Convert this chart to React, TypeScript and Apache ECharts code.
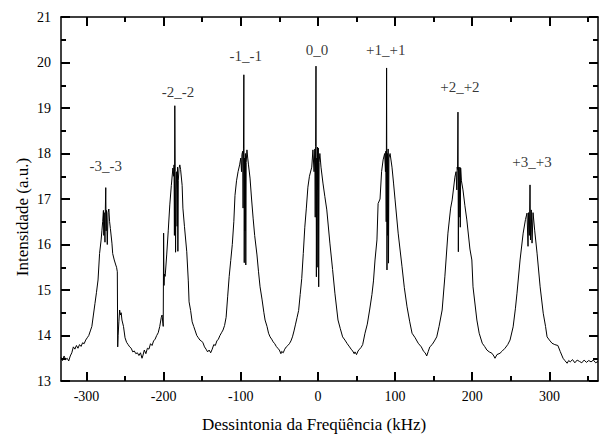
import React, { useEffect, useRef } from "react";
import * as echarts from "echarts";

// Spectrum: [detuning kHz, intensity a.u.]
const segmentLeftEdge: [number, number][] = [
  [-333, 13.52], [-331, 13.45], [-329, 13.55], [-327, 13.47], [-325, 13.5], [-323, 13.44],
  [-321, 13.55], [-319, 13.62], [-317, 13.75], [-315, 13.7], [-313, 13.78], [-311, 13.72],
  [-309, 13.8], [-307, 13.76], [-305, 13.84], [-303, 13.82], [-301, 13.9], [-299, 13.95],
  [-297, 14.0], [-295, 14.1], [-293, 14.2],
];
const segmentPeakM3: [number, number][] = [
  [-291, 14.45], [-289, 14.7], [-287, 14.95], [-285, 15.22], [-283, 15.8], [-281, 16.1],
  [-280, 16.3], [-279, 16.5], [-278, 16.75], [-277.5, 16.2], [-277, 16.7], [-276, 16.05],
  [-275.5, 16.8], [-275, 17.25], [-274.5, 16.3], [-274, 16.75], [-273, 16.0], [-272, 16.7],
  [-271, 16.78], [-270, 16.5], [-269, 16.35], [-267, 16.03], [-266, 15.8], [-264, 15.66],
  [-262, 15.55], [-261, 15.5], [-260, 15.4], [-259.5, 13.75], [-259, 14.0], [-258, 14.3],
  [-257, 14.56], [-256, 14.45], [-255, 14.5], [-254, 14.34], [-252, 14.2], [-250, 13.95],
  [-248, 13.85], [-246, 13.8], [-244, 13.75], [-242, 13.72], [-240, 13.64], [-238, 13.66],
  [-236, 13.6], [-234, 13.62], [-232, 13.56], [-230, 13.62], [-228, 13.5], [-227, 13.55],
  [-225, 13.68], [-223, 13.6], [-221, 13.72], [-219, 13.7], [-217, 13.82], [-215, 13.78],
  [-213, 13.88], [-211, 13.92], [-209, 14.0], [-207, 14.06], [-205, 14.2], [-203, 14.4],
  [-202, 14.45], [-201, 14.27], [-200.5, 14.2],
];
const segmentPeakM2: [number, number][] = [
  [-200, 16.25], [-199.5, 15.1], [-199, 15.35], [-198, 15.3], [-196, 15.77], [-194, 16.3],
  [-192, 16.87], [-190, 17.3], [-188, 17.68], [-187, 17.5], [-186.5, 17.75], [-186, 16.2],
  [-185.5, 19.05], [-185, 17.6], [-184.5, 15.83], [-184, 17.2], [-183, 17.6], [-182.5, 16.4],
  [-182, 17.7], [-181.5, 15.85], [-181, 17.4], [-180, 17.68], [-179, 17.75], [-178, 17.65],
  [-176, 17.3], [-175, 16.8], [-173, 16.4], [-170, 15.84], [-168, 15.2], [-167, 14.74],
  [-165, 14.55], [-163, 14.3], [-161, 14.2], [-159, 14.1], [-157, 14.0], [-155, 13.95],
  [-153, 13.9], [-151, 13.88], [-149, 13.84], [-147, 13.75], [-145, 13.7], [-143, 13.64],
  [-141, 13.68], [-139, 13.62], [-137, 13.7], [-135, 13.8], [-133, 13.78], [-131, 13.88],
  [-129, 13.92], [-127, 14.0], [-125, 14.06], [-123, 14.12], [-121, 14.22],
];
const segmentPeakM1: [number, number][] = [
  [-119, 14.4], [-117, 14.85], [-115, 15.3], [-113, 15.65], [-111, 16.0], [-109, 16.5],
  [-107.5, 17.08], [-105.5, 17.4], [-103.5, 17.6], [-101.5, 17.75], [-100, 17.9], [-99, 17.6],
  [-98.5, 17.98], [-97.5, 18.05], [-97, 16.8], [-96.5, 18.1], [-96, 19.73], [-95.5, 15.6],
  [-95, 17.9], [-94.5, 16.3], [-94, 18.0], [-93.5, 15.55], [-93, 17.8], [-92, 18.08],
  [-91, 17.9], [-90, 17.75], [-88, 17.46], [-86, 17.0], [-84, 16.58], [-82, 16.2],
  [-79, 15.77], [-77, 15.4], [-75, 15.07], [-72.5, 14.8], [-70, 14.5], [-68.5, 14.34],
  [-66, 14.2], [-64, 14.05], [-62, 13.97], [-60, 13.92], [-58, 13.86], [-56, 13.82],
  [-54, 13.76], [-52, 13.72], [-50, 13.68], [-48, 13.6], [-47, 13.65], [-45, 13.62],
  [-43, 13.7], [-41, 13.75], [-39, 13.78], [-37, 13.82], [-35, 13.88], [-33, 13.97],
];
const segmentPeak0: [number, number][] = [
  [-31, 14.1], [-29, 14.25], [-27, 14.4], [-25, 14.55], [-23, 14.9], [-21, 15.25],
  [-19, 15.8], [-17, 16.38], [-15, 16.8], [-13, 17.26], [-11, 17.5], [-8, 17.7],
  [-6.5, 18.08], [-5, 17.6], [-4, 18.1], [-3.5, 16.6], [-3, 18.15], [-2.5, 19.92],
  [-2, 15.29], [-1.5, 17.9], [-1, 15.5], [-0.5, 18.14], [0, 17.2], [0.5, 18.12],
  [1, 15.07], [1.5, 17.8], [2.5, 18.0], [4, 17.7], [6.5, 17.35], [9, 17.05],
  [11.5, 16.76], [15.5, 16.03], [19, 15.45], [22, 14.93], [26, 14.34], [29, 14.15],
  [32, 13.97], [35, 13.9], [38, 13.82], [41, 13.75], [43, 13.7], [45, 13.66],
  [47, 13.6], [48, 13.64], [50, 13.58], [52, 13.66], [54, 13.7], [56, 13.74], [58, 13.8],
];
const segmentPeakP1: [number, number][] = [
  [61, 14.05], [64, 14.25], [67, 14.56], [70, 14.9], [72, 15.2], [74, 15.66],
  [76.5, 16.1], [78, 16.9], [80.5, 17.0], [82.5, 17.6], [84.5, 17.86], [86.5, 18.0],
  [87.5, 17.6], [88, 18.05], [88.5, 16.5], [89, 19.88], [89.5, 15.44], [90, 18.0],
  [90.5, 16.2], [91, 18.1], [91.5, 15.59], [92, 17.9], [93.5, 18.0], [96, 17.7],
  [98, 17.35], [100, 16.98], [104, 16.25], [109, 15.51], [112, 15.05], [115.5, 14.63],
  [119, 14.3], [122, 14.05], [126, 13.95], [130, 13.83], [134, 13.75], [137, 13.65],
  [139, 13.62], [141, 13.55], [143, 13.65], [145, 13.75], [148, 13.8], [151, 13.88],
  [154, 13.97],
];
const segmentPeakP2: [number, number][] = [
  [157, 14.2], [161, 14.56], [164.5, 15.29], [168.5, 16.25], [172, 16.8], [174, 16.98],
  [177.5, 17.48], [179, 17.6], [180, 17.2], [180.5, 17.7], [181, 17.65], [181.5, 18.91],
  [182, 15.84], [182.5, 17.7], [183, 16.6], [184, 17.7], [184.5, 16.38], [185, 17.68],
  [186, 17.4], [188, 17.2], [190.5, 16.85], [193, 16.54], [197, 15.9], [199.5, 15.66],
  [201, 15.07], [206, 14.34], [209, 14.05], [213, 13.83], [216, 13.76], [219, 13.68],
  [222, 13.64], [225.5, 13.61], [228, 13.55], [229.5, 13.5], [232, 13.58], [236, 13.61],
  [239, 13.66], [242.5, 13.72], [246, 13.8], [249, 13.9],
];
const segmentPeakP3: [number, number][] = [
  [253, 14.19], [256, 14.6], [258, 14.93], [262, 15.66], [266, 16.25], [269, 16.55],
  [271, 16.69], [272.3, 15.96], [273, 16.7], [274, 16.2], [274.9, 17.31], [275.5, 16.1],
  [276.5, 16.76], [277.5, 16.03], [278.8, 16.7], [281, 16.3], [284, 15.81], [288, 15.07],
  [292, 14.49], [295, 14.2], [297, 13.97], [300, 13.9], [303.4, 13.83], [307, 13.8],
  [311, 13.78], [314, 13.65], [317.7, 13.5], [320, 13.45], [323, 13.39], [325, 13.45],
  [327, 13.42], [330, 13.47], [333, 13.4], [336, 13.46], [339, 13.43], [342, 13.4],
  [345, 13.46], [348, 13.41], [351, 13.45], [354, 13.42], [357, 13.46], [360, 13.4], [363, 13.43],
];

const peakLabels = ["-3_-3", "-2_-2", "-1_-1", "0_0", "+1_+1", "+2_+2", "+3_+3"];
const peakLabelX = [-275, -181.5, -93.4, -1.3, 88, 184, 277.5];
const peakLabelY = [17.73, 19.35, 20.14, 20.27, 20.27, 19.46, 17.81];

const xMajorTicks = [-300, -200, -100, 0, 100, 200, 300];
const xMinorTicks = [-250, -150, -50, 50, 150, 250, 350];
const X_MIN = -333;
const X_MAX = 363;
const Y_MIN = 13;
const Y_MAX = 21;

const FONT = "'Liberation Serif', 'Times New Roman', serif";
const TICK = "#000";

export default function App() {
  const ref = useRef<HTMLDivElement>(null);

  useEffect(() => {
    if (!ref.current) return;
    const chart = echarts.init(ref.current, undefined, { renderer: "svg" });
    const spectrum = [
      ...segmentLeftEdge,
      ...segmentPeakM3,
      ...segmentPeakM2,
      ...segmentPeakM1,
      ...segmentPeak0,
      ...segmentPeakP1,
      ...segmentPeakP2,
      ...segmentPeakP3,
    ];
    const labelPoints = peakLabels.map((name, i) => ({
      name,
      value: [peakLabelX[i], peakLabelY[i]],
    }));

    const xAxisBase = (position: "top" | "bottom", ticks: number[], len: number, labels: boolean, line: boolean) => ({
      type: "value",
      min: X_MIN,
      max: X_MAX,
      position,
      axisLine: { show: line, onZero: false, lineStyle: { color: "#000", width: 1.5 } },
      axisTick: {
        show: true,
        inside: true,
        length: len,
        customValues: ticks,
        lineStyle: { color: TICK, width: 2 },
      },
      axisLabel: labels
        ? { show: true, customValues: ticks, color: "#000", fontFamily: FONT, fontSize: 14, margin: 8 }
        : { show: false },
      splitLine: { show: false },
    });

    const yAxisBase = (position: "left" | "right", labels: boolean) => ({
      type: "value",
      min: Y_MIN,
      max: Y_MAX,
      interval: 1,
      position,
      axisLine: { show: true, onZero: false, lineStyle: { color: "#000", width: 1.5 } },
      axisTick: { show: true, inside: true, length: 9, lineStyle: { color: TICK, width: 2 } },
      minorTick: { show: true, splitNumber: 2, length: 5, lineStyle: { color: TICK, width: 2 } },
      axisLabel: labels
        ? { show: true, color: "#000", fontFamily: FONT, fontSize: 14, margin: 10 }
        : { show: false },
      splitLine: { show: false },
    });

    chart.setOption({
      animation: false,
      grid: { left: 61, right: 2, top: 17, bottom: 56 },
      xAxis: [
        xAxisBase("bottom", xMajorTicks, 9, true, true),
        xAxisBase("bottom", xMinorTicks, 5, false, false),
        xAxisBase("top", xMajorTicks, 9, false, true),
        xAxisBase("top", xMinorTicks, 5, false, false),
      ],
      yAxis: [yAxisBase("left", true), yAxisBase("right", false)],
      series: [
        {
          type: "line",
          xAxisIndex: 0,
          yAxisIndex: 0,
          data: spectrum,
          showSymbol: false,
          symbol: "none",
          lineStyle: { color: "#000", width: 1 },
        },
        {
          type: "scatter",
          xAxisIndex: 0,
          yAxisIndex: 0,
          data: labelPoints,
          symbolSize: 0,
          itemStyle: { color: "#000" },
          label: {
            show: true,
            position: [0, 0],
            align: "center",
            verticalAlign: "middle",
            formatter: "{b}",
            color: "#000",
            textBorderWidth: 0,
            fontFamily: FONT,
            fontSize: 15,
          },
        },
      ],
      graphic: [
        {
          type: "text",
          x: 314,
          y: 424,
          style: {
            text: "Dessintonia da Freqüência (kHz)",
            font: `17px ${FONT}`,
            fill: "#000",
            textAlign: "center",
            textVerticalAlign: "middle",
          },
        },
        {
          type: "text",
          x: 22,
          y: 217,
          rotation: Math.PI / 2,
          style: {
            text: "Intensidade (a.u.)",
            font: `17px ${FONT}`,
            fill: "#000",
            textAlign: "center",
            textVerticalAlign: "middle",
          },
        },
      ],
    });

    return () => chart.dispose();
  }, []);

  return (
    <div
      ref={ref}
      style={{ position: "absolute", left: 0, top: 0, width: 600, height: 437, background: "#fff" }}
    />
  );
}
